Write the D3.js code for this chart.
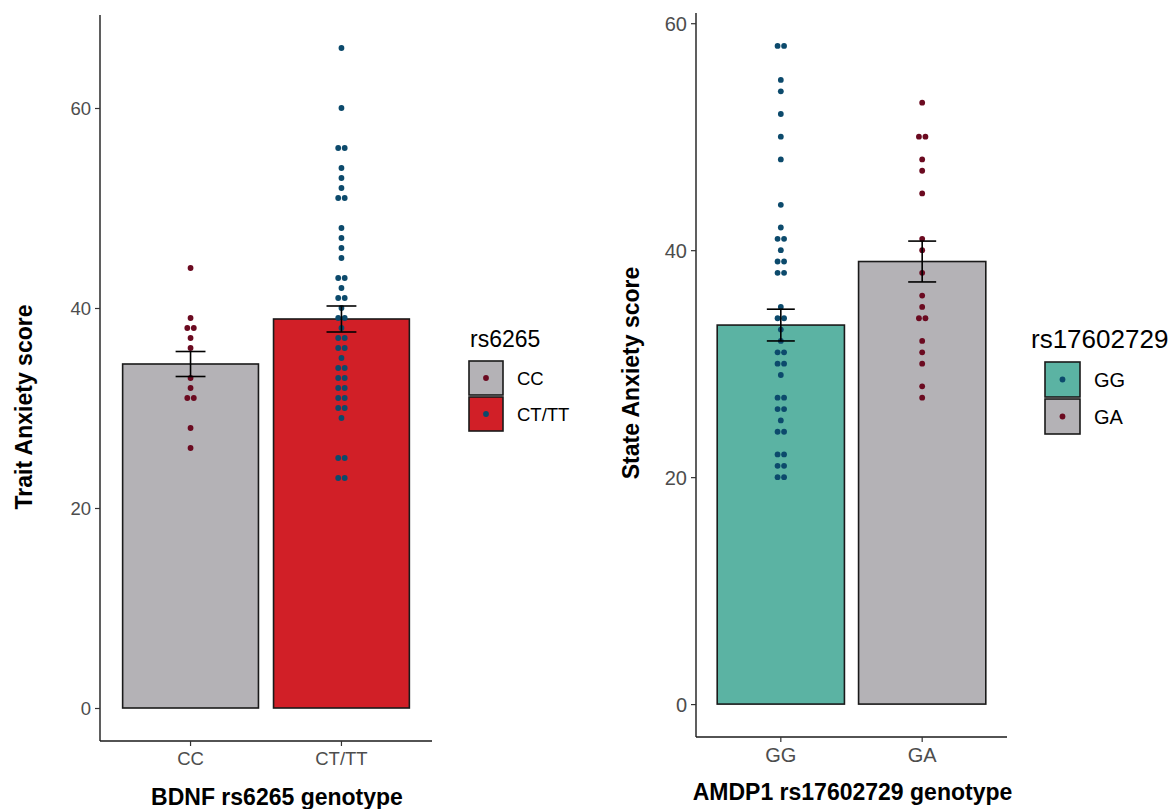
<!DOCTYPE html>
<html>
<head>
  <meta charset="utf-8">
  <title>Anxiety score by genotype</title>
  <script src="https://cdn.jsdelivr.net/npm/d3@7"></script>
  <style>
    body { margin: 0; background: #fff; }
    text { font-family: "Liberation Sans", Arial, sans-serif; }
    .tick text { fill: #4d4d4d; }
    .axis-title { font-weight: bold; font-size: 23px; fill: #000; }
  </style>
</head>
<body>
<svg id="chart" width="1169" height="809"></svg>
<script>
  // 1. data
  var leftCats = ["CC", "CT/TT"];
  var leftMeans = [34.4, 38.9];
  var leftSE = [1.25, 1.3];
  var ccScores = [44, 39, 38, 38, 37, 36, 33, 32, 31, 31, 28, 26];
  var cttScores = [66, 60, 56, 56, 54, 53, 52, 51, 51, 48, 47, 46, 45, 43, 43, 42, 41, 41, 40,
    39, 39, 38, 37, 37, 36, 36, 35, 34, 34, 33, 33, 32, 32, 31, 31, 30, 30, 29, 25, 25, 23, 23];

  var rightCats = ["GG", "GA"];
  var rightMeans = [33.4, 39.0];
  var rightSE = [1.4, 1.8];
  var ggScores = [58, 58, 55, 54, 52, 50, 48, 44, 42, 41, 41, 40, 39, 39, 38, 38, 35, 34, 34, 33,
    32, 31, 31, 30, 30, 29, 27, 27, 26, 26, 25, 24, 24, 22, 22, 21, 21, 20, 20];
  var gaScores = [53, 50, 50, 48, 47, 45, 41, 40, 38, 36, 35, 34, 34, 32, 31, 30, 28, 27];

  var yTicks = [0, 20, 40, 60];

  var grey = "#b4b2b6", red = "#d11f27", teal = "#5bb3a3";
  var maroon = "#6b0a20", navy = "#0c4a6c";

  var svg = d3.select("#chart");

  // 2. one panel = bars + error bars + dots + axes + legend
  function panel(o) {
    var allPts = o.points[0].concat(o.points[1]);
    var ymax = d3.max(allPts);
    var pad = ymax * 0.05;

    var x = d3.scaleBand()
      .domain(o.cats)
      .range([o.left, o.right])
      .paddingInner(0.1)
      .paddingOuter(0.15);

    var y = d3.scaleLinear()
      .domain([-pad, ymax + pad])
      .range([o.bottom, o.top]);

    var g = svg.append("g");

    // bars
    g.selectAll("rect.bar")
      .data(o.cats)
      .enter().append("rect")
      .attr("class", "bar")
      .attr("x", function(d) { return x(d); })
      .attr("width", x.bandwidth())
      .attr("y", function(d, i) { return y(o.means[i]); })
      .attr("height", function(d, i) { return y(0) - y(o.means[i]); })
      .attr("fill", function(d, i) { return o.fills[i]; })
      .attr("stroke", "#1a1a1a")
      .attr("stroke-width", 1.6);

    // dots, stacked sideways when values repeat
    o.cats.forEach(function(c, ci) {
      var cx = x(c) + x.bandwidth() / 2;
      var groups = d3.groups(o.points[ci], function(v) { return v; });
      var dots = [];
      groups.forEach(function(gr) {
        var n = gr[1].length;
        gr[1].forEach(function(v, k) {
          dots.push({ v: v, dx: (k - (n - 1) / 2) * 6.5 });
        });
      });
      g.selectAll("circle.c" + ci)
        .data(dots)
        .enter().append("circle")
        .attr("class", "c" + ci)
        .attr("cx", function(d) { return cx + d.dx; })
        .attr("cy", function(d) { return y(d.v); })
        .attr("r", 2.9)
        .attr("fill", o.dotCols[ci]);
    });

    // error bars
    var half = x.bandwidth() * 0.11;
    o.cats.forEach(function(c, i) {
      var cx = x(c) + x.bandwidth() / 2;
      var lo = y(o.means[i] - o.se[i]), hi = y(o.means[i] + o.se[i]);
      var eg = g.append("g").attr("stroke", "#000").attr("stroke-width", 1.6);
      eg.append("line").attr("x1", cx).attr("x2", cx).attr("y1", lo).attr("y2", hi);
      eg.append("line").attr("x1", cx - half).attr("x2", cx + half).attr("y1", lo).attr("y2", lo);
      eg.append("line").attr("x1", cx - half).attr("x2", cx + half).attr("y1", hi).attr("y2", hi);
    });

    // axes
    var ya = g.append("g")
      .attr("transform", "translate(" + o.left + ",0)")
      .call(d3.axisLeft(y).tickValues(yTicks).tickSize(5).tickPadding(4));
    var xa = g.append("g")
      .attr("transform", "translate(0," + o.bottom + ")")
      .call(d3.axisBottom(x).tickSize(5).tickPadding(6));
    [ya, xa].forEach(function(a) {
      a.select(".domain").attr("stroke", "#1a1a1a").attr("stroke-width", 1.4);
      a.selectAll(".tick line").attr("stroke", "#333").attr("stroke-width", 1.2);
      a.selectAll(".tick text").style("font-size", o.tickSize + "px");
    });
    ya.select(".domain").attr("d", "M0," + o.bottom + "V" + o.top);
    xa.select(".domain").attr("d", "M" + o.left + ",0H" + o.right);
    ya.selectAll(".tick text").attr("dy", "0.36em");

    // titles
    g.append("text")
      .attr("class", "axis-title")
      .attr("text-anchor", "middle")
      .attr("transform", "translate(" + o.yTitleX + "," + o.yTitleY + ") rotate(-90)")
      .text(o.yTitle);
    g.append("text")
      .attr("class", "axis-title")
      .attr("text-anchor", "middle")
      .attr("x", (o.left + o.right) / 2 + o.xTitleDx)
      .attr("y", o.xTitleY)
      .text(o.xTitle);

    // legend
    var lg = g.append("g").attr("transform", "translate(" + o.legX + "," + o.legY + ")");
    lg.append("text")
      .attr("x", o.legTitleDx).attr("y", -14)
      .style("font-size", o.legTitleSize + "px")
      .text(o.legTitle);
    var key = lg.selectAll("g.key")
      .data(o.cats)
      .enter().append("g")
      .attr("class", "key")
      .attr("transform", function(d, i) { return "translate(0," + i * (o.keySize + 2) + ")"; });
    key.append("rect")
      .attr("width", o.keySize).attr("height", o.keySize)
      .attr("fill", function(d, i) { return o.fills[i]; })
      .attr("stroke", "#1a1a1a").attr("stroke-width", 1.6);
    key.append("circle")
      .attr("cx", o.keySize / 2).attr("cy", o.keySize / 2).attr("r", 2.9)
      .attr("fill", function(d, i) { return o.dotCols[i]; });
    key.append("text")
      .attr("x", o.keySize + 14).attr("y", o.keySize / 2).attr("dy", "0.36em")
      .style("font-size", o.tickSize + "px")
      .text(function(d) { return d; });
  }

  // 3. left panel
  panel({
    cats: leftCats, means: leftMeans, se: leftSE,
    points: [ccScores, cttScores],
    fills: [grey, red], dotCols: [maroon, navy],
    left: 100, right: 432, top: 15, bottom: 741,
    tickSize: 18.5, legTitleSize: 23, keySize: 34,
    yTitle: "Trait Anxiety score", yTitleX: 32, yTitleY: 407,
    xTitle: "BDNF rs6265 genotype", xTitleY: 805, xTitleDx: 11,
    legTitle: "rs6265", legX: 469, legY: 361, legTitleDx: 1
  });

  // 4. right panel
  panel({
    cats: rightCats, means: rightMeans, se: rightSE,
    points: [ggScores, gaScores],
    fills: [teal, grey], dotCols: [navy, maroon],
    left: 696, right: 1007, top: 13, bottom: 737,
    tickSize: 20, legTitleSize: 26, keySize: 35,
    yTitle: "State Anxiety score", yTitleX: 639, yTitleY: 373,
    xTitle: "AMDP1 rs17602729 genotype", xTitleY: 800, xTitleDx: 1,
    legTitle: "rs17602729", legX: 1045, legY: 362, legTitleDx: -14
  });
</script>
</body>
</html>
